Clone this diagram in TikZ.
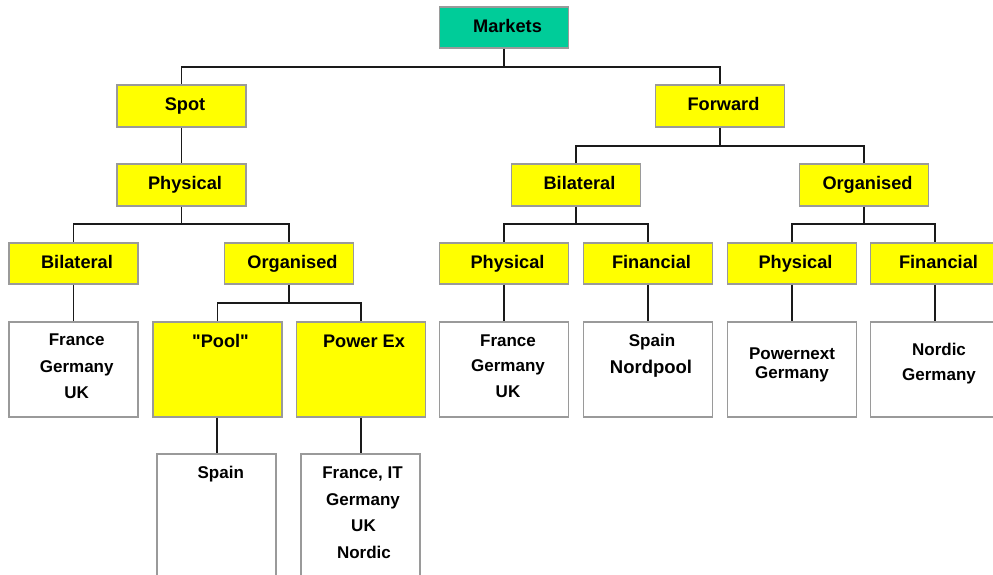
\documentclass[tikz,border=0pt]{standalone}
\usepackage{fontspec}
\setmainfont{Liberation Sans}[Ligatures=TeXOff]
\definecolor{yel}{HTML}{FFFF00}
\definecolor{grn}{HTML}{00CC99}
\definecolor{boxgray}{HTML}{9A9A9A}
\definecolor{linec}{HTML}{1A1A1A}
\begin{document}
\begin{tikzpicture}[x=1pt,y=-1pt,
  box/.style={draw=boxgray, line width=1.2pt, rectangle, inner sep=0pt, minimum width=129pt},
  ybox/.style={box, fill=yel},
  wbox/.style={box, fill=white},
  gbox/.style={box, fill=grn},
  htext/.style={inner sep=0pt, font=\bfseries\fontsize{18.2}{22}\selectfont, text height=13.1pt, text depth=3.9pt},
  btext/.style={inner sep=0pt, anchor=base, font=\bfseries\fontsize{17}{20}\selectfont},
  link/.style={draw=linec, line width=1.3pt}
]
\clip (0,0) rectangle (993,575);
\fill[white] (0,0) rectangle (993,575);

% row 1
\node[gbox, minimum height=41pt] (markets) at (504,27.5) {};
% row 2
\node[ybox, minimum height=42pt] (spot) at (181.5,106) {};
\node[ybox, minimum height=42pt] (forward) at (720,106) {};
% row 3
\node[ybox, minimum height=42pt] (sphys) at (181.5,185) {};
\node[ybox, minimum height=42pt] (fbil) at (576,185) {};
\node[ybox, minimum height=42pt] (forg) at (864,185) {};
% row 4
\node[ybox, minimum height=41pt] (sbil) at (73.5,263.5) {};
\node[ybox, minimum height=41pt] (sorg) at (289,263.5) {};
\node[ybox, minimum height=41pt] (fbphys) at (504,263.5) {};
\node[ybox, minimum height=41pt] (fbfin) at (648,263.5) {};
\node[ybox, minimum height=41pt] (fophys) at (792,263.5) {};
\node[ybox, minimum height=41pt] (fofin) at (935,263.5) {};
% row 5
\node[wbox, minimum height=95pt] (sbilc) at (73.5,369.5) {};
\node[ybox, minimum height=95pt] (pool) at (217.5,369.5) {};
\node[ybox, minimum height=95pt] (powex) at (361,369.5) {};
\node[wbox, minimum height=95pt] (fbphysc) at (504,369.5) {};
\node[wbox, minimum height=95pt] (fbfinc) at (648,369.5) {};
\node[wbox, minimum height=95pt] (fophysc) at (792,369.5) {};
\node[wbox, minimum height=95pt] (fofinc) at (935,369.5) {};
% row 6
\node[wbox, minimum width=119pt, minimum height=140pt] (poolc) at (216.5,524) {};
\node[wbox, minimum width=119pt, minimum height=140pt] (powexc) at (360.5,524) {};

% header texts
\node[htext] (markets-t) at ([xshift=3.5pt]markets.center) {Markets};
\node[htext] (spot-t) at ([xshift=3.5pt]spot.center) {Spot};
\node[htext] (forward-t) at ([xshift=3.5pt]forward.center) {Forward};
\node[htext] (sphys-t) at ([xshift=3.5pt]sphys.center) {Physical};
\node[htext] (fbil-t) at ([xshift=3.5pt]fbil.center) {Bilateral};
\node[htext] (forg-t) at ([xshift=3.5pt]forg.center) {Organised};
\node[htext] (sbil-t) at ([xshift=3.5pt]sbil.center) {Bilateral};
\node[htext] (sorg-t) at ([xshift=3.5pt]sorg.center) {Organised};
\node[htext] (fbphys-t) at ([xshift=3.5pt]fbphys.center) {Physical};
\node[htext] (fbfin-t) at ([xshift=3.5pt]fbfin.center) {Financial};
\node[htext] (fophys-t) at ([xshift=3.5pt]fophys.center) {Physical};
\node[htext] (fofin-t) at ([xshift=3.5pt]fofin.center) {Financial};
\node[htext, anchor=base] (pool-t) at (220.5,347) {"Pool"};
\node[htext, anchor=base] (powex-t) at (364,347) {Power Ex};

% content texts
\node[btext] (sb1) at (76.7,345.7) {France};
\node[btext] (sb2) at (76.7,372.3) {Germany};
\node[btext] (sb3) at (76.7,398.3) {UK};

\node[btext] (pc1) at (220.8,478.3) {Spain};

\node[btext] (pe1) at (362.5,478.3) {France, IT};
\node[btext] (pe2) at (363,505) {Germany};
\node[btext] (pe3) at (363.5,531.5) {UK};
\node[btext] (pe4) at (364,558) {Nordic};

\node[btext] (fb1) at (508,346) {France};
\node[btext] (fb2) at (508,371.7) {Germany};
\node[btext] (fb3) at (508,397.7) {UK};

\node[btext] (ff1) at (652,346) {Spain};
\node[btext, font=\bfseries\fontsize{18.5}{22}\selectfont] (ff2) at (651,373.3) {Nordpool};

\node[btext] (op1) at (792,359) {Powernext};
\node[btext] (op2) at (792,378.7) {Germany};

\node[btext] (of1) at (939,355) {Nordic};
\node[btext] (of2) at (939,380.7) {Germany};

% connectors
\coordinate (b1) at (504,67);
\draw[link] (markets.south) -- (b1) -| (spot.north);
\draw[link] (b1) -| (forward.north);
\draw[link] (spot.south) -- (sphys.north);

\coordinate (b2) at (720,146);
\draw[link] (forward.south) -- (b2) -| (fbil.north);
\draw[link] (b2) -| (forg.north);

\coordinate (b3) at (181.5,224);
\draw[link] (sphys.south) -- (b3) -| (sbil.north);
\draw[link] (b3) -| (sorg.north);

\coordinate (b4) at (576,224);
\draw[link] (fbil.south) -- (b4) -| (fbphys.north);
\draw[link] (b4) -| (fbfin.north);

\coordinate (b5) at (864,224);
\draw[link] (forg.south) -- (b5) -| (fophys.north);
\draw[link] (b5) -| (fofin.north);

\coordinate (b6) at (289,303);
\draw[link] (sorg.south) -- (b6) -| (pool.north);
\draw[link] (b6) -| (powex.north);

\draw[link] (sbil.south) -- (sbilc.north);
\draw[link] (fbphys.south) -- (fbphysc.north);
\draw[link] (fbfin.south) -- (fbfinc.north);
\draw[link] (fophys.south) -- (fophysc.north);
\draw[link] (fofin.south) -- (fofinc.north);
\draw[link] ([xshift=-0.5pt]pool.south) -- ([xshift=-0.5pt]pool.south |- poolc.north);
\draw[link] (powex.south) -- (powex.south |- powexc.north);
\end{tikzpicture}
\end{document}
